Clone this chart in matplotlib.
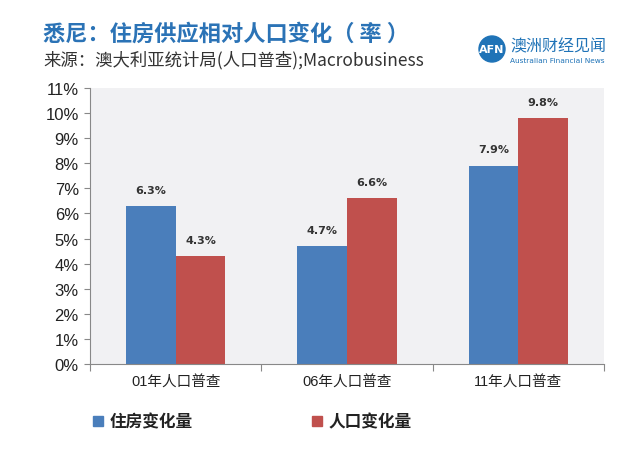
import matplotlib
matplotlib.use("Agg")
import matplotlib.pyplot as plt
import numpy as np
from matplotlib.patches import Circle, Rectangle

plt.rcParams["font.family"] = ["Noto Sans CJK SC", "DejaVu Sans"]

categories = ["01年人口普查", "06年人口普查", "11年人口普查"]
housing = [6.3, 4.7, 7.9]
population = [4.3, 6.6, 9.8]
series_names = ["住房变化量", "人口变化量"]
y_ticks = list(range(0, 12))

BLUE = "#4a7ebb"
RED = "#c0504d"
W, H = 640, 456

fig = plt.figure(figsize=(6.4, 4.56), dpi=100)
ax = fig.add_axes([0.1406, 0.1996, 0.8032, 0.6052])
ax.set_facecolor("#f1f1f3")

x = np.arange(len(categories))
w = 0.29
b1 = ax.bar(x - w / 2, housing, w, color=BLUE)
b2 = ax.bar(x + w / 2, population, w, color=RED)
for bars, vals in ((b1, housing), (b2, population)):
    for rect, v in zip(bars, vals):
        ax.text(rect.get_x() + rect.get_width() / 2, v + 0.45, f"{v:.1f}%",
                ha="center", va="bottom", fontsize=8, color="#333333",
                family="DejaVu Sans", fontweight="bold")

ax.set_xlim(-0.5, 2.5)
ax.set_ylim(0, 11)
ax.set_yticks(y_ticks)
ax.set_yticklabels([f"{t}%" for t in y_ticks], fontsize=12, color="#222222",
                   family="Liberation Sans")
ax.set_xticks([-0.5, 0.5, 1.5, 2.5])
ax.set_xticklabels([])
ax.set_xticks(x, minor=True)
ax.set_xticklabels(categories, minor=True, fontsize=10.5, color="#222222",
                   family=["Liberation Sans", "Noto Sans CJK SC"])
ax.tick_params(axis="x", which="minor", length=0, pad=8)
ax.tick_params(axis="x", which="major", length=5, color="#888888")
ax.tick_params(axis="y", length=4, color="#888888", pad=4)
for s in ("top", "right"):
    ax.spines[s].set_visible(False)
for s in ("left", "bottom"):
    ax.spines[s].set_color("#888888")

# title and source
fig.text(43 / W, 1 - 34 / H, "悉尼：住房供应相对人口变化（ 率 ）", fontsize=16,
         fontweight="bold", color="#2b73b6", va="center")
fig.text(43 / W, 1 - 60 / H, "来源：澳大利亚统计局(人口普查);Macrobusiness",
         fontsize=12.5, color="#333333", va="center")

# logo
lx, ly = 492, H - 50
fig.patches.append(Circle((lx, ly), 13, transform=None, color="#1f73b7"))
fig.text(lx / W, ly / H, "AFN", fontsize=8, color="white", fontweight="bold",
         ha="center", va="center", family="DejaVu Sans")
fig.text(510 / W, 1 - 47 / H, "澳洲财经见闻", fontsize=11.5,
         color="#1f73b7", va="center")
fig.text(510 / W, 1 - 61 / H, "Australian Financial News", fontsize=5.3,
         color="#1f73b7", va="center", family="DejaVu Sans")

# legend
for px, name, col in ((93, series_names[0], BLUE), (312, series_names[1], RED)):
    fig.patches.append(Rectangle((px, H - 427), 10, 10, transform=None, color=col))
    fig.text((px + 17) / W, 1 - 422 / H, name, fontsize=12, color="#222222",
             fontweight="bold", va="center")

fig.savefig("out.png", dpi=100, facecolor="white")
